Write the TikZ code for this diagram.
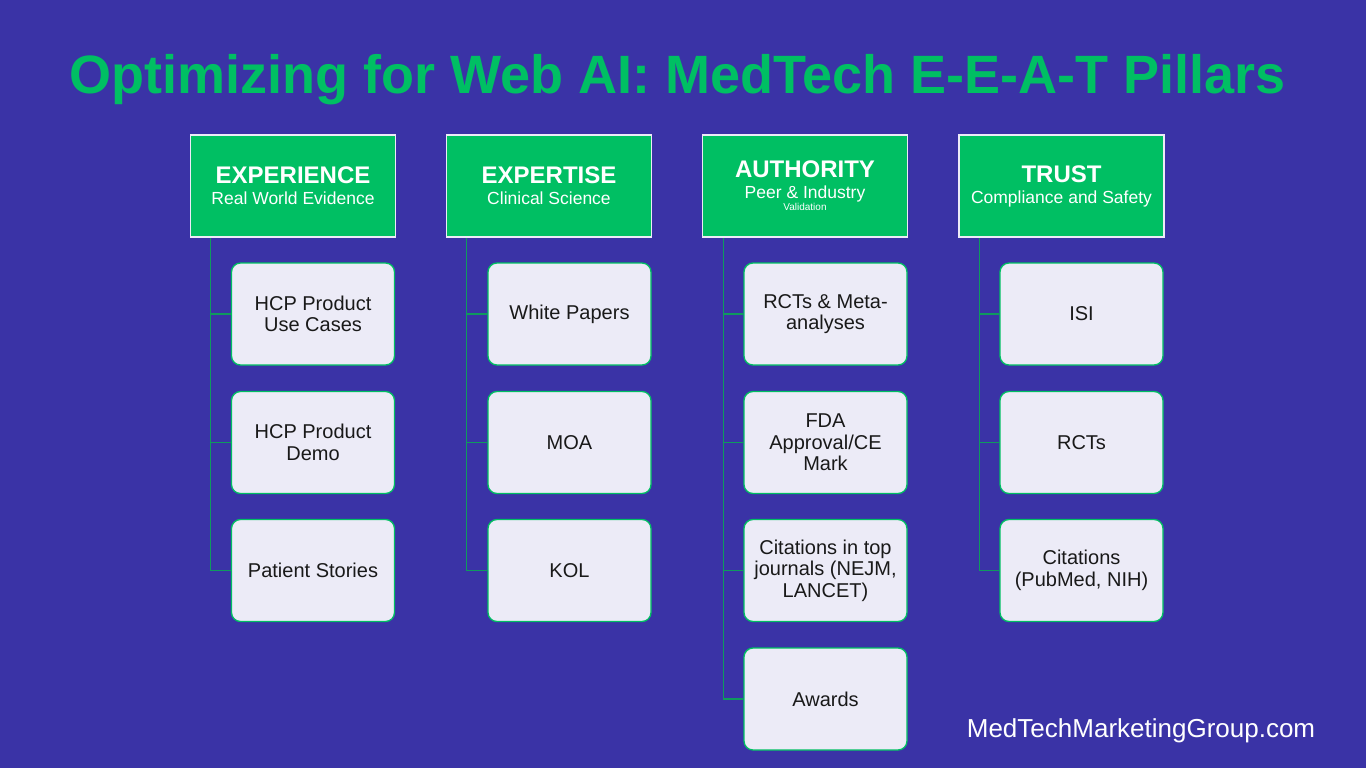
\documentclass[tikz,border=0pt]{standalone}
\usepackage{fontspec}
\setmainfont{Liberation Sans}
\definecolor{bgblue}{HTML}{3A33A6}
\definecolor{pgreen}{HTML}{00BF63}
\definecolor{boxfill}{HTML}{ECEBF7}
\definecolor{linkgreen}{HTML}{0F9A5E}
\newcommand{\fs}[2]{\fontsize{#1}{#2}\selectfont}
\tikzset{
 pillar/.style={draw=boxfill,fill=pgreen,line width=1.6pt,minimum width=205pt,minimum height=102pt,inner sep=0pt,align=center,text=white},
 leaf/.style={draw=pgreen,fill=boxfill,line width=1.3pt,rounded corners=9pt,minimum width=163pt,minimum height=102pt,inner sep=0pt,align=center,text=black!90,font=\fs{20}{21.5}},
 link/.style={draw=linkgreen,line width=1.2pt},
}
\begin{document}
\begin{tikzpicture}[x=1pt,y=-1pt]
\useasboundingbox (0,0) rectangle (1366,768);
\fill[bgblue] (0,0) rectangle (1366,768);
\node[text=pgreen,font=\bfseries\fs{54}{54},inner sep=0pt] (title) at (677.5,80) {Optimizing for Web AI: MedTech E-E-A-T Pillars};
\node[text=white,font=\fs{26}{26},inner sep=0pt] (site) at (1141,731) {MedTechMarketingGroup.com};
% pillars
\node[pillar] (p1) at (293,186) {{\bfseries\fs{24}{24}EXPERIENCE}\\[7pt]\fs{17.5}{18}Real World Evidence};
\node[pillar] (p2) at (549,186) {{\bfseries\fs{24}{24}EXPERTISE}\\[7pt]\fs{17.5}{18}Clinical Science};
\node[pillar] (p3) at (805,186) {{\bfseries\fs{24}{24}AUTHORITY}\\[7pt]\fs{17.5}{18}Peer \& Industry\\Validation};
\node[pillar] (p4) at (1061.5,186) {{\bfseries\fs{24}{24}TRUST}\\[7pt]\fs{17.5}{18}Compliance and Safety};
% leaves
\node[leaf] (a1) at (313,314) {HCP Product\\Use Cases};
\node[leaf] (a2) at (313,442.5) {HCP Product\\Demo};
\node[leaf] (a3) at (313,570.5) {Patient Stories};
\node[leaf] (b1) at (569.5,314) {White Papers};
\node[leaf] (b2) at (569.5,442.5) {MOA};
\node[leaf] (b3) at (569.5,570.5) {KOL};
\node[leaf] (c1) at (825.5,314) {RCTs \& Meta-\\analyses};
\node[leaf] (c2) at (825.5,442.5) {FDA\\Approval/CE\\Mark};
\node[leaf] (c3) at (825.5,570.5) {Citations in top\\journals (NEJM,\\LANCET)};
\node[leaf] (c4) at (825.5,699) {Awards};
\node[leaf] (d1) at (1081.5,314) {ISI};
\node[leaf] (d2) at (1081.5,442.5) {RCTs};
\node[leaf] (d3) at (1081.5,570.5) {Citations\\(PubMed, NIH)};
% spines
\coordinate (s1) at (210.5,570.5);
\coordinate (s2) at (466.5,570.5);
\coordinate (s3) at (723.5,699);
\coordinate (s4) at (979.5,570.5);
\draw[link] (p1.south -| s1) -- (s1) -- (a3.west);
\draw[link] (s1 |- a1.west) -- (a1.west);
\draw[link] (s1 |- a2.west) -- (a2.west);
\draw[link] (p2.south -| s2) -- (s2) -- (b3.west);
\draw[link] (s2 |- b1.west) -- (b1.west);
\draw[link] (s2 |- b2.west) -- (b2.west);
\draw[link] (p3.south -| s3) -- (s3) -- (c4.west);
\draw[link] (s3 |- c1.west) -- (c1.west);
\draw[link] (s3 |- c2.west) -- (c2.west);
\draw[link] (s3 |- c3.west) -- (c3.west);
\draw[link] (p4.south -| s4) -- (s4) -- (d3.west);
\draw[link] (s4 |- d1.west) -- (d1.west);
\draw[link] (s4 |- d2.west) -- (d2.west);
\end{tikzpicture}
\end{document}
